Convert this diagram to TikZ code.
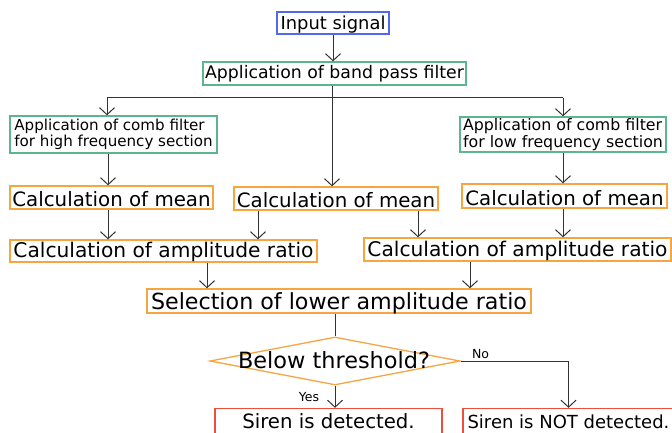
\documentclass[tikz,border=0pt]{standalone}
\usepackage{fontspec}
\setmainfont{DejaVu Sans}
\usetikzlibrary{arrows.meta,shapes.geometric}
\definecolor{cblue}{HTML}{5468EE}
\definecolor{cgreen}{HTML}{5BB58E}
\definecolor{corange}{HTML}{F6A540}
\definecolor{cred}{HTML}{EE4E3C}
\definecolor{cline}{HTML}{333333}
\begin{document}
\begin{tikzpicture}[x=1pt,y=1pt,
  box/.style={draw, line width=1.3pt, inner xsep=0pt, inner ysep=0pt, fill=white},
  conn/.style={draw=cline, line width=1pt},
  arr/.style={conn, -{Straight Barb[length=7pt,width=15pt,line width=1pt]}},
  lbl/.style={font=\fontsize{12.5}{14}\selectfont, inner sep=0pt, anchor=base}
]
\useasboundingbox (0,0) rectangle (672,-433);
\clip (0,0) rectangle (672,-433);

% nodes
\node[box, draw=cblue, minimum width=112pt, minimum height=22pt, text height=18pt, text depth=4pt,
  font=\fontsize{17.9}{20}\selectfont] (in) at (333,-23) {Input signal};
\node[box, draw=cgreen, minimum width=263pt, minimum height=23pt, text height=16.5pt, text depth=6.5pt,
  font=\fontsize{17.3}{20}\selectfont] (bp) at (334.5,-73.5) {Application of band pass filter};

\node[box, draw=cgreen, minimum width=207pt, minimum height=37pt, align=left,
  font=\fontsize{15.1}{16}\selectfont] (combL) at (113.5,-134.5) {Application of comb filter\\for high frequency section};
\node[box, draw=cgreen, minimum width=206pt, minimum height=35pt, align=left,
  font=\fontsize{15.8}{16.5}\selectfont] (combR) at (563,-134.5) {Application of comb filter\\for low frequency section};

\node[box, draw=corange, minimum width=203pt, minimum height=23pt, text height=20pt, text depth=3pt,
  font=\fontsize{19.8}{22}\selectfont] (meanL) at (111.5,-197.5) {Calculation of mean};
\node[box, draw=corange, minimum width=204pt, minimum height=23pt, text height=20pt, text depth=3pt,
  font=\fontsize{19.8}{22}\selectfont] (meanM) at (336,-198.5) {Calculation of mean};
\node[box, draw=corange, minimum width=205pt, minimum height=24pt, text height=21pt, text depth=3pt,
  font=\fontsize{19.8}{22}\selectfont] (meanR) at (564.5,-196) {Calculation of mean};

\node[box, draw=corange, minimum width=307pt, minimum height=22pt, text height=17.5pt, text depth=4.5pt,
  font=\fontsize{20.2}{22}\selectfont] (ratioL) at (163.5,-251) {Calculation of amplitude ratio};
\node[box, draw=corange, minimum width=307pt, minimum height=23pt, text height=18.5pt, text depth=4.5pt,
  font=\fontsize{20.2}{22}\selectfont] (ratioR) at (517.5,-249.5) {Calculation of amplitude ratio};

\node[box, draw=corange, minimum width=384pt, minimum height=24pt, text height=20pt, text depth=4pt,
  font=\fontsize{22.2}{24}\selectfont] (sel) at (339,-301) {Selection of lower amplitude ratio};

\node[draw=corange, line width=1.3pt, shape=diamond, inner sep=0pt, minimum width=250pt, minimum height=48pt] (dia) at (335,-361) {};
\node[font=\fontsize{22.4}{24}\selectfont, inner sep=0pt, anchor=base] (diatext) at (334,-368) {Below threshold?};

\node[box, draw=cred, minimum width=227pt, minimum height=40pt, text height=19.5pt, text depth=20.5pt,
  font=\fontsize{19.7}{22}\selectfont] (sirenY) at (328.5,-428.5) {Siren is detected.};
\node[box, draw=cred, minimum width=211pt, minimum height=40pt, text height=19.5pt, text depth=20.5pt,
  font=\fontsize{18}{20}\selectfont] (sirenN) at (568.5,-428.5) {Siren is NOT detected.};

\node[lbl] (yes) at (309,-401) {Yes};
\node[lbl] (no) at (480.5,-358) {No};

% helper coordinates
\coordinate (jL) at (107,-98);
\coordinate (jM) at (332,-98);
\coordinate (jR) at (563,-98);
\coordinate (xA) at (108,0);
\coordinate (xB) at (258,0);
\coordinate (xC) at (418,0);
\coordinate (xD) at (563,0);
\coordinate (xE) at (207,0);
\coordinate (xF) at (470,0);

% connectors
\draw[arr] (in.south) -- (in.south |- bp.north);
\draw[conn] (bp.south -| jM) -- (jM);
\draw[conn] (jL) -- (jR);
\draw[arr] (jL) -- (jL |- combL.north);
\draw[arr] (jM) -- (jM |- meanM.north);
\draw[arr] (jR) -- (jR |- combR.north);

\draw[arr] (combL.south -| xA) -- (meanL.north -| xA);
\draw[arr] (meanL.south -| xA) -- (ratioL.north -| xA);
\draw[arr] (meanM.south -| xB) -- (ratioL.north -| xB);
\draw[arr] (meanM.south -| xC) -- (ratioR.north -| xC);
\draw[arr] (combR.south -| xD) -- (meanR.north -| xD);
\draw[arr] (meanR.south -| xD) -- (ratioR.north -| xD);
\draw[arr] (ratioL.south -| xE) -- (sel.north -| xE);
\draw[arr] (ratioR.south -| xF) -- (sel.north -| xF);

\draw[conn] (dia.north |- sel.south) -- (dia.north);
\draw[arr] (dia.south) -- (dia.south |- sirenY.north);
\draw[arr] (dia.east) -| (sirenN.north);
\end{tikzpicture}
\end{document}
